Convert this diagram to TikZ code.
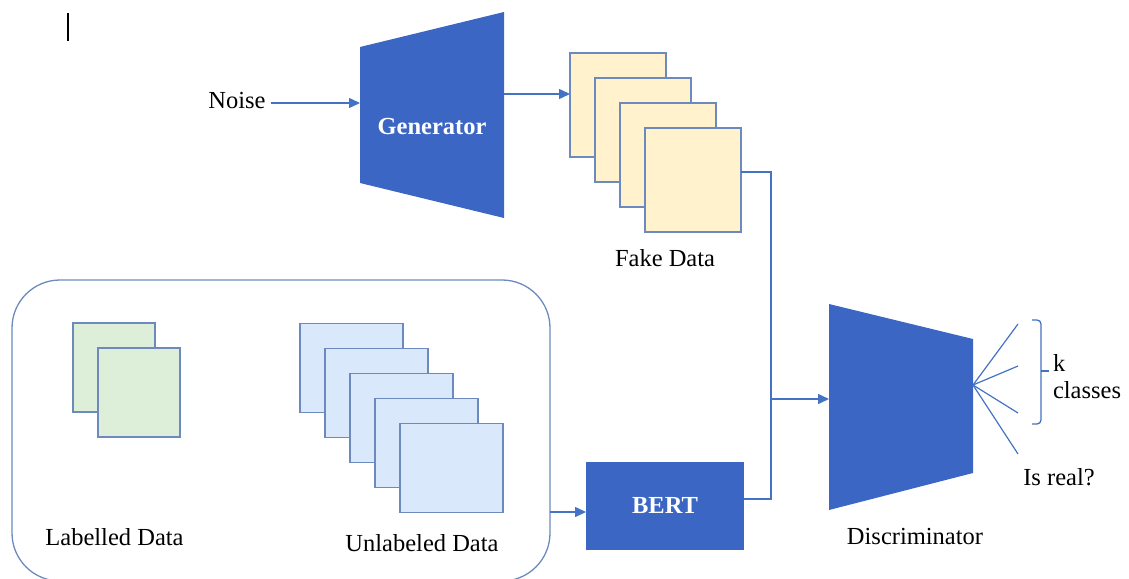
\documentclass[tikz,border=0pt]{standalone}
\usepackage{fontspec}
\setmainfont{Liberation Serif}
\usetikzlibrary{arrows.meta}
\definecolor{netblue}{RGB}{60,102,196}
\definecolor{wireblue}{RGB}{68,114,196}
\definecolor{edgeblue}{RGB}{108,138,190}
\definecolor{fakefill}{RGB}{255,242,204}
\definecolor{labfill}{RGB}{221,239,216}
\definecolor{unlabfill}{RGB}{218,232,252}
\begin{document}
\begin{tikzpicture}[x=1pt, y=-1pt,
    font=\fontsize{24.5}{27}\selectfont,
    every node/.style={inner sep=0pt, outer sep=0pt},
    card/.style={draw=edgeblue, line width=1.6pt},
    fakecard/.style={card, fill=fakefill, minimum width=96pt, minimum height=104pt},
    labcard/.style={card, fill=labfill, minimum width=82pt, minimum height=89pt},
    unlabcard/.style={card, fill=unlabfill, minimum width=103pt, minimum height=89pt},
    wire/.style={draw=wireblue, line width=1.5pt},
    flow/.style={wire, -{Triangle[length=11pt,width=10pt]}},
    fan/.style={draw=wireblue, line width=1.2pt},
    net/.style={fill=netblue},
    netlabel/.style={text=white, font=\fontsize{24.5}{27}\selectfont\bfseries}]

\useasboundingbox (0,0) rectangle (1129,578);

\draw[line width=1.3pt] (68,13) -- (68,41);

\node (noise) at (237,101) {Noise};
\fill[net] (360,47) -- (504,12) -- (504,218) -- (360,183) -- cycle;
\coordinate (genin) at (360,103);
\coordinate (genout) at (504,94);
\node[netlabel] (gen) at (432,127) {Generator};

\node[fakecard] (f1) at (618,105) {};
\node[fakecard] (f2) at (643,130) {};
\node[fakecard] (f3) at (668,155) {};
\node[fakecard] (f4) at (693,180) {};
\node (fake) at (665,258) {Fake Data};

\node[draw=edgeblue, line width=1.3pt, rounded corners=48pt,
      minimum width=538pt, minimum height=301pt] (pool) at (281,430.5) {};
\node[labcard] (l1) at (114,367.5) {};
\node[labcard] (l2) at (139,392.5) {};
\node[unlabcard] (u1) at (351.5,368) {};
\node[unlabcard] (u2) at (376.5,393) {};
\node[unlabcard] (u3) at (401.5,418) {};
\node[unlabcard] (u4) at (426.5,443) {};
\node[unlabcard] (u5) at (451.5,468) {};
\node (lab) at (114.5,537) {Labelled Data};
\node (unlab) at (422,543) {Unlabeled Data};

\node[net, minimum width=158pt, minimum height=88pt] (bert) at (665,506) {};
\node[netlabel] at (bert) {BERT};

\fill[net] (829,304) -- (973,339) -- (973,473) -- (829,510) -- cycle;
\coordinate (discin) at (829,399);
\coordinate (discout) at (973,385);
\node (disc) at (915,537) {Discriminator};

\coordinate (joint) at (771,399);
\coordinate (c1) at (1018,324);
\coordinate (c2) at (1018,366);
\coordinate (c3) at (1018,413);
\coordinate (c4) at (1018,454);

\draw[flow] ([xshift=5pt]noise.east |- genin) -- (genin);
\draw[flow] (genout) -- (f1.west |- genout);
\draw[wire] (f4.east |- 0,172) -| (joint);
\draw[wire] (bert.east |- 0,499) -| (joint);
\draw[flow] (joint) -- (discin);
\draw[flow] (pool.east |- 0,512) -- (bert.west |- 0,512);

\draw[fan] (discout) -- (c1);
\draw[fan] (discout) -- (c2);
\draw[fan] (discout) -- (c3);
\draw[fan] (discout) -- (c4);

\draw[wire, line width=1.3pt, rounded corners=4pt] (1032,320) -- (1041,320) -- (1041,424) -- (1032,424);
\draw[wire, line width=1.3pt] (1041,371) -- (1049,371);
\node[anchor=west, align=left] (classes) at (1053,377) {k\\classes};
\node (real) at (1059,477) {Is real?};

\end{tikzpicture}
\end{document}
